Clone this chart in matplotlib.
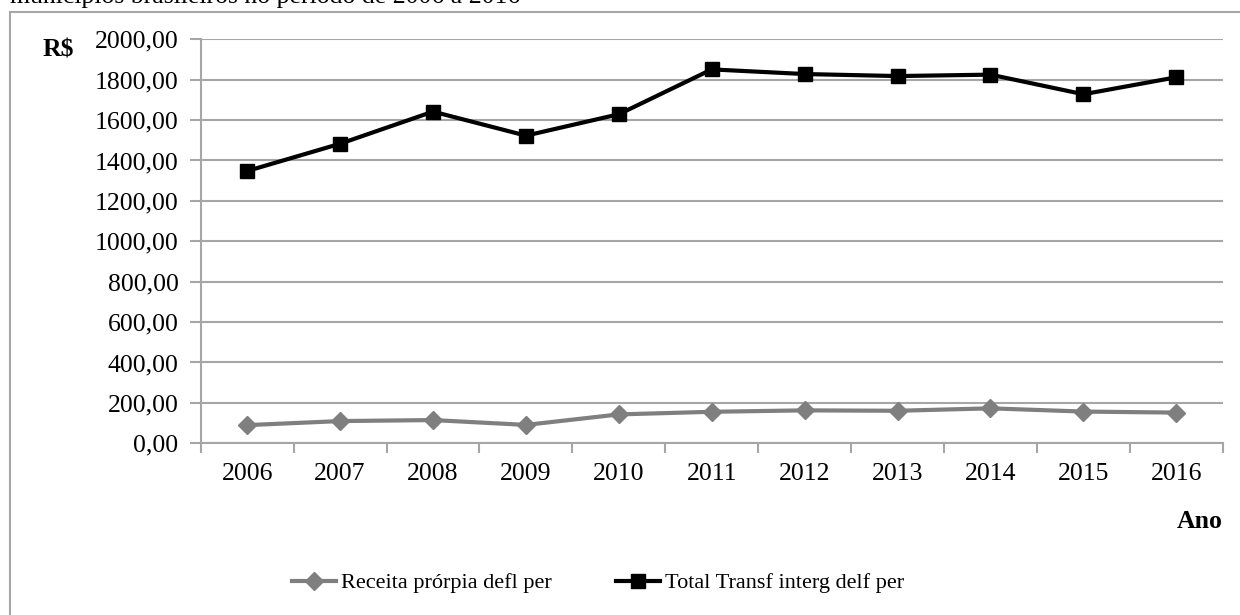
import matplotlib
matplotlib.use("Agg")
import matplotlib.pyplot as plt
from matplotlib.patches import Rectangle
from matplotlib.ticker import FixedLocator, FuncFormatter

plt.rcParams['font.family'] = ['Liberation Serif', 'DejaVu Serif']

# receita própria e transferências per capita deflacionadas (R$)
anos = ['2006', '2007', '2008', '2009', '2010', '2011', '2012', '2013', '2014', '2015', '2016']
receita_propria = [90, 110, 115, 91, 143, 156, 163, 161, 173, 157, 152]
total_transf = [1348, 1483, 1642, 1523, 1629, 1851, 1828, 1818, 1825, 1728, 1812]
y_ticks = [0, 200, 400, 600, 800, 1000, 1200, 1400, 1600, 1800, 2000]

titulo = 'municípios brasileiros no período de 2006 a 2016'
grid_cor = '#a6a6a6'

fig = plt.figure(figsize=(12.4, 6.15), dpi=100)

# moldura do gráfico
fig.patches.append(Rectangle((10 / 1240, -0.05), 1.2, 1 - 12 / 615 + 0.05,
                             transform=fig.transFigure, fill=False,
                             edgecolor=grid_cor, linewidth=1.5))
fig.text(10 / 1240, 1 - 3 / 615, titulo, fontsize=18.5, va='baseline', ha='left')

ax = fig.add_axes([0.1619, 0.2792, 0.8242, 0.6569])
x = [i + 0.5 for i in range(len(anos))]

ax.plot(x, receita_propria, color='#7f7f7f', linewidth=3, marker='D',
        markersize=9, label='Receita prórpia defl per')
ax.plot(x, total_transf, color='black', linewidth=3, marker='s',
        markersize=10, label='Total Transf interg delf per')

ax.set_xlim(0, len(anos))
ax.set_ylim(0, 2000)
ax.yaxis.set_major_locator(FixedLocator(y_ticks))
ax.yaxis.set_major_formatter(FuncFormatter(lambda v, p: f'{v:.2f}'.replace('.', ',')))
ax.set_xticks(x)
ax.set_xticklabels(anos)
ax.set_xticks(range(len(anos) + 1), minor=True)
ax.tick_params(axis='x', which='major', length=0, pad=14, labelsize=18.5)
ax.tick_params(axis='x', which='minor', length=7, width=1.5, color=grid_cor, direction='out')
ax.tick_params(axis='y', length=8, width=1.5, color=grid_cor, pad=8, labelsize=18.5)

ax.grid(axis='y', color=grid_cor, linewidth=1.5)
ax.set_axisbelow(True)
for s in ['top', 'right']:
    ax.spines[s].set_visible(False)
for s in ['left', 'bottom']:
    ax.spines[s].set_color(grid_cor)
    ax.spines[s].set_linewidth(1.5)

fig.text(58 / 1240, 1 - 50 / 615, 'R$', fontsize=18.5, fontweight='bold', ha='center', va='center')
fig.text(1200 / 1240, 1 - 521 / 615, 'Ano', fontsize=18.5, fontweight='bold', ha='center', va='center')

fig.legend(loc='center', bbox_to_anchor=(598 / 1240, 1 - 583 / 615), ncol=2, frameon=False,
           fontsize=16, handlelength=2.0, handletextpad=0.2, columnspacing=2.9)

fig.savefig('out.png', dpi=100)
